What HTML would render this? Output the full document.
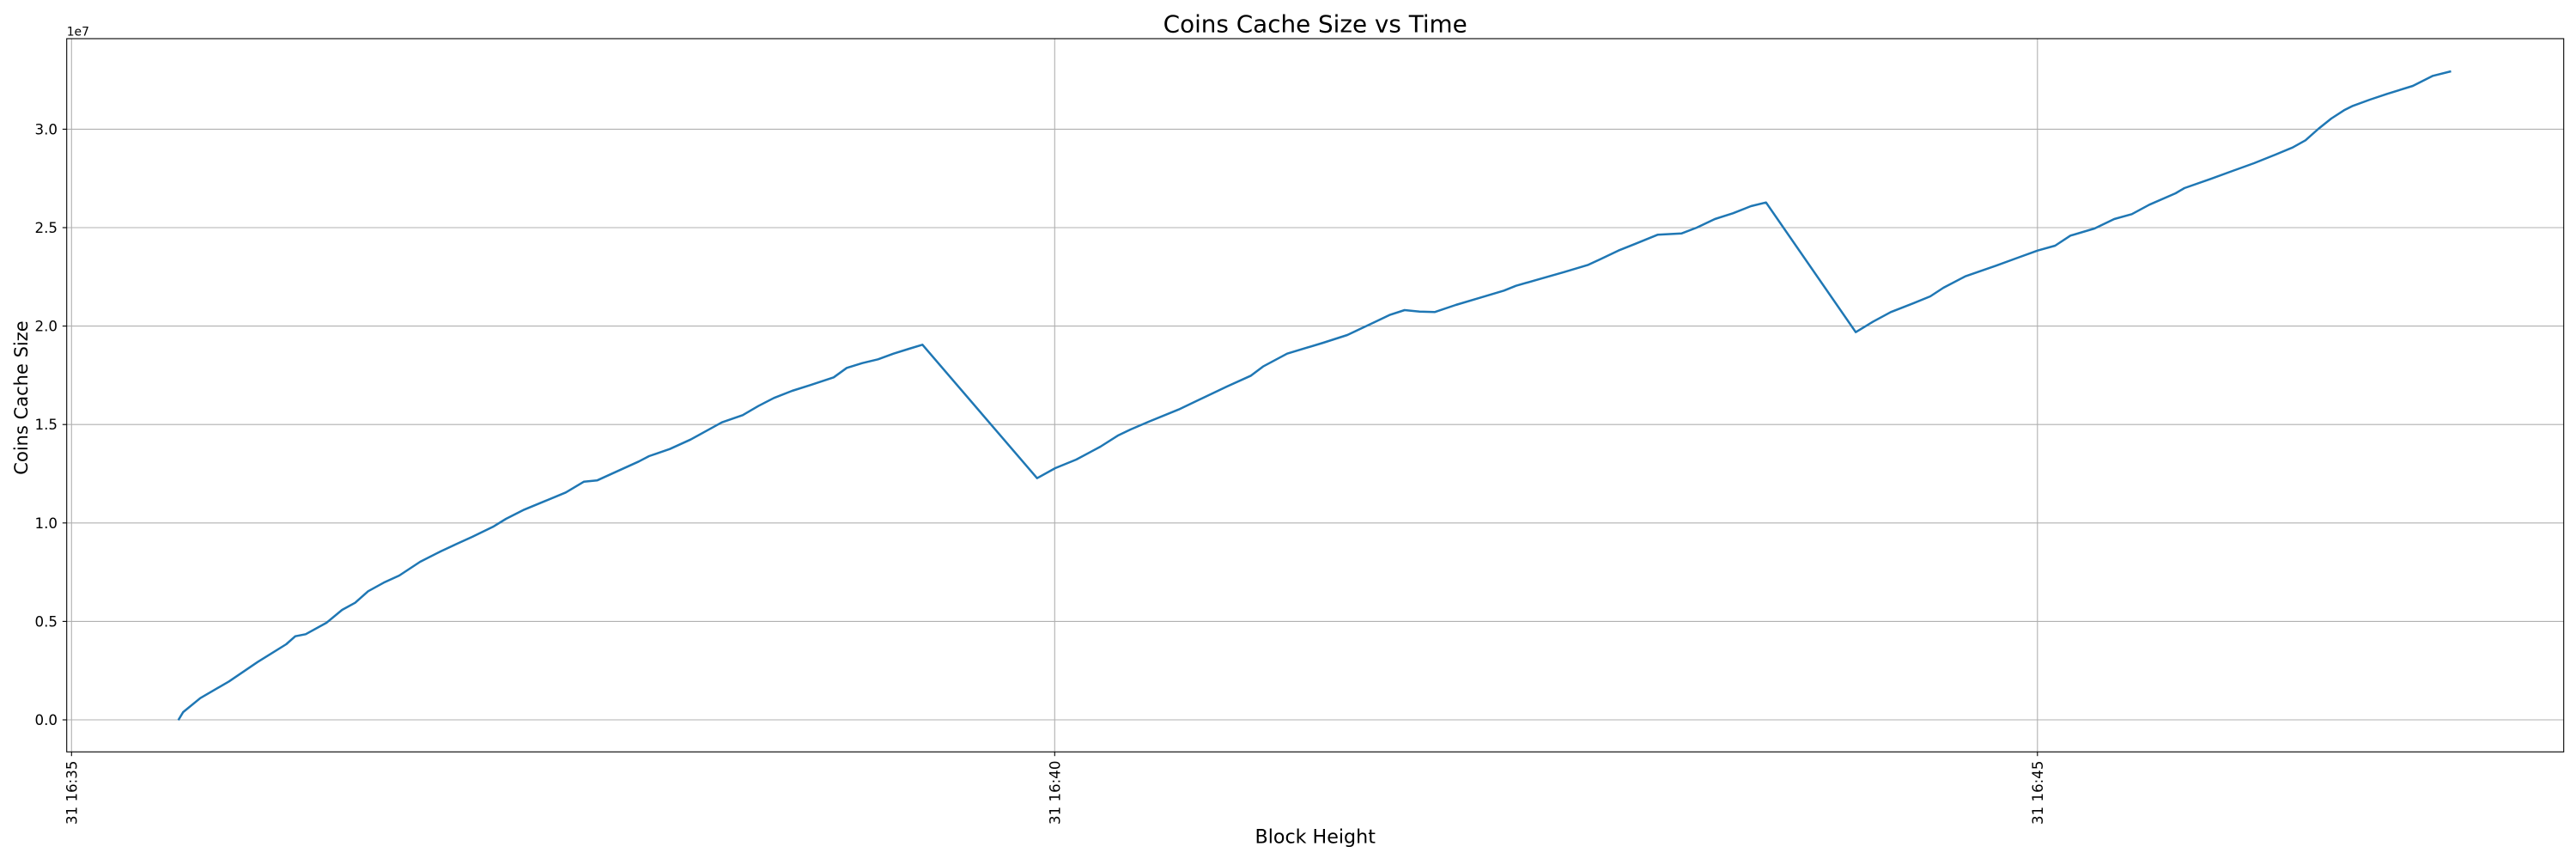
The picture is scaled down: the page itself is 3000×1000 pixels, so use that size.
<!DOCTYPE html>
<html>
<head>
<meta charset="utf-8">
<style>
  html, body { margin: 0; padding: 0; background: #ffffff; }
  svg { display: block; }
  text { font-family: "DejaVu Sans", "Liberation Sans", sans-serif; fill: #000; }
</style>
</head>
<body>
<svg width="3000" height="1000" viewBox="0 0 3000 1000" xmlns="http://www.w3.org/2000/svg">
  <rect x="0" y="0" width="3000" height="1000" fill="#ffffff"/>

  <!-- grid -->
  <g stroke="#b0b0b0" stroke-width="1.1" fill="none">
    <line x1="83.3" y1="45" x2="83.3" y2="875.3"/>
    <line x1="1228.3" y1="45" x2="1228.3" y2="875.3"/>
    <line x1="2372.8" y1="45" x2="2372.8" y2="875.3"/>
    <line x1="77.7" y1="838" x2="2985.7" y2="838"/>
    <line x1="77.7" y1="723.4" x2="2985.7" y2="723.4"/>
    <line x1="77.7" y1="608.8" x2="2985.7" y2="608.8"/>
    <line x1="77.7" y1="494.2" x2="2985.7" y2="494.2"/>
    <line x1="77.7" y1="379.6" x2="2985.7" y2="379.6"/>
    <line x1="77.7" y1="265" x2="2985.7" y2="265"/>
    <line x1="77.7" y1="150.4" x2="2985.7" y2="150.4"/>
  </g>

  <!-- data series -->
  <polyline fill="none" stroke="#1f77b4" stroke-width="2.5" stroke-linejoin="round" stroke-linecap="square"
    points="208.3,837.3 213.3,829 233.3,812.7 266.7,793.3 300,770.7 333.3,750 343.9,740.7 356,738.3 380.2,725 398.4,710 413.6,701.7 428.7,688.3 446.9,678.3 465,670 489.3,654 513.5,641.7 531.7,633.3 549.9,625 574.1,613.3 589.3,604 610.5,593.3 634.7,583.3 658.9,573.3 680.1,560.7 695.3,559.3 719.5,548.3 743.8,537.3 755.9,531 780.1,522.7 804.3,511.7 822.5,501.7 840.7,491.7 864.9,483.3 883.1,472.7 901.3,463.3 922.5,455 943.7,448.3 970.9,439.3 986.1,428.3 1004.3,422.7 1022.5,418.3 1040.6,411.7 1058.8,406 1074.3,401.3 1207.8,556.7 1228.9,545 1253.4,535 1281.5,520 1302.5,506.7 1316.6,500 1337.6,491 1372.7,476.7 1407.8,460 1428.8,450 1456.9,437.3 1470.9,426.7 1499,411.7 1541.1,399 1569.1,390 1597.2,376.7 1618.2,366.7 1635.8,361 1653.3,362.7 1670.8,363.3 1695.4,355 1723.4,346.7 1751.5,338.3 1765.5,332.7 1786.6,326.7 1821.7,316.7 1849.7,308.3 1863.8,301.7 1884.8,291.7 1905.8,283.3 1930.4,273.3 1958.5,271.7 1976,265 1997.1,255 2018.1,248.3 2039.1,240 2056.7,235.7 2161.2,386.7 2181.6,374.3 2202,363.3 2227.6,353.3 2248,345 2263.3,335 2288.8,321.7 2324.5,309.3 2350,300 2373,291.7 2393.4,286 2411.2,274.3 2439.3,266 2462.2,255 2482.7,249.3 2503.1,238.3 2533.7,225 2543.9,219 2574.5,208.3 2600,199 2625,190 2650,180 2670,171.7 2685,163.3 2700,150 2715,138 2730,128.3 2740,123.3 2760,116 2780,109.3 2810,100 2833.3,88.3 2853.3,83.3"/>

  <!-- spines -->
  <rect x="77.7" y="45" width="2908" height="830.3" fill="none" stroke="#000" stroke-width="1.1"/>

  <!-- ticks -->
  <g stroke="#000" stroke-width="1.1">
    <line x1="72.8" y1="838" x2="77.7" y2="838"/>
    <line x1="72.8" y1="723.4" x2="77.7" y2="723.4"/>
    <line x1="72.8" y1="608.8" x2="77.7" y2="608.8"/>
    <line x1="72.8" y1="494.2" x2="77.7" y2="494.2"/>
    <line x1="72.8" y1="379.6" x2="77.7" y2="379.6"/>
    <line x1="72.8" y1="265" x2="77.7" y2="265"/>
    <line x1="72.8" y1="150.4" x2="77.7" y2="150.4"/>
    <line x1="83.3" y1="875.3" x2="83.3" y2="880.2"/>
    <line x1="1228.3" y1="875.3" x2="1228.3" y2="880.2"/>
    <line x1="2372.8" y1="875.3" x2="2372.8" y2="880.2"/>
  </g>

  <g font-size="16.67" text-anchor="end">
    <text x="67" y="844">0.0</text>
    <text x="67" y="729.4">0.5</text>
    <text x="67" y="614.8">1.0</text>
    <text x="67" y="500.2">1.5</text>
    <text x="67" y="385.6">2.0</text>
    <text x="67" y="271">2.5</text>
    <text x="67" y="156.4">3.0</text>
  </g>

  <g font-size="16.67" text-anchor="end">
    <text transform="translate(89.3,885.5) rotate(-90)">31 16:35</text>
    <text transform="translate(1234.3,885.5) rotate(-90)">31 16:40</text>
    <text transform="translate(2378.8,885.5) rotate(-90)">31 16:45</text>
  </g>

  <text x="77.7" y="41.7" font-size="13.9">1e7</text>

  <text x="1531.7" y="37.3" font-size="27.8" text-anchor="middle">Coins Cache Size vs Time</text>
  <text x="1531.7" y="981.7" font-size="22.2" text-anchor="middle">Block Height</text>
  <text transform="translate(31.8,463) rotate(-90)" font-size="21" text-anchor="middle">Coins Cache Size</text>
</svg>
</body>
</html>
